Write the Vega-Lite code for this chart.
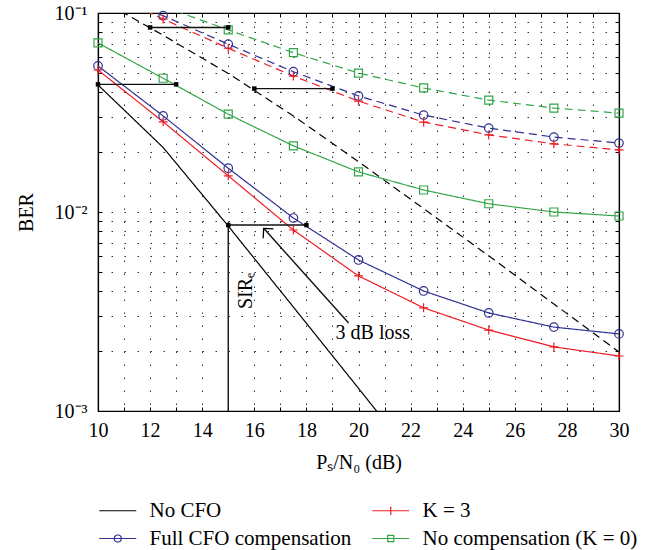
{
  "$schema": "https://vega.github.io/schema/vega-lite/v6.json",
  "width": 521,
  "height": 398,
  "autosize": {"type": "none"},
  "padding": {"left": 98, "top": 13, "right": 40, "bottom": 139},
  "background": "white",
  "config": {
    "font": "Liberation Serif",
    "view": {"stroke": "black", "strokeWidth": 1.2},
    "axis": {"labelFont": "Liberation Serif", "titleFont": "Liberation Serif"},
    "legend": {"labelFont": "Liberation Serif"},
    "text": {"font": "Liberation Serif"}
  },
  "datasets": {
    "curves": [
      {"series": "No CFO", "style": "solid", "snr": 10, "ber": 0.0435},
      {"series": "No CFO", "style": "solid", "snr": 12.5, "ber": 0.0211},
      {"series": "No CFO", "style": "solid", "snr": 15, "ber": 0.0085},
      {"series": "No CFO", "style": "solid", "snr": 17.5, "ber": 0.00333},
      {"series": "No CFO", "style": "solid", "snr": 20, "ber": 0.0013},
      {"series": "No CFO", "style": "solid", "snr": 22.5, "ber": 0.000505},
      {"series": "No CFO", "style": "dashed", "snr": 10, "ber": 0.1186},
      {"series": "No CFO", "style": "dashed", "snr": 12.5, "ber": 0.0773},
      {"series": "No CFO", "style": "dashed", "snr": 15, "ber": 0.0497},
      {"series": "No CFO", "style": "dashed", "snr": 17.5, "ber": 0.0304},
      {"series": "No CFO", "style": "dashed", "snr": 20, "ber": 0.0179},
      {"series": "No CFO", "style": "dashed", "snr": 22.5, "ber": 0.0104},
      {"series": "No CFO", "style": "dashed", "snr": 25, "ber": 0.00602},
      {"series": "No CFO", "style": "dashed", "snr": 27.5, "ber": 0.00345},
      {"series": "No CFO", "style": "dashed", "snr": 30, "ber": 0.00198},
      {"series": "Full CFO compensation", "style": "solid", "snr": 10, "ber": 0.0542},
      {"series": "Full CFO compensation", "style": "solid", "snr": 12.5, "ber": 0.0304},
      {"series": "Full CFO compensation", "style": "solid", "snr": 15, "ber": 0.0166},
      {"series": "Full CFO compensation", "style": "solid", "snr": 17.5, "ber": 0.00933},
      {"series": "Full CFO compensation", "style": "solid", "snr": 20, "ber": 0.00574},
      {"series": "Full CFO compensation", "style": "solid", "snr": 22.5, "ber": 0.00401},
      {"series": "Full CFO compensation", "style": "solid", "snr": 25, "ber": 0.00311},
      {"series": "Full CFO compensation", "style": "solid", "snr": 27.5, "ber": 0.00264},
      {"series": "Full CFO compensation", "style": "solid", "snr": 30, "ber": 0.00244},
      {"series": "Full CFO compensation", "style": "dashed", "snr": 10, "ber": 0.126},
      {"series": "Full CFO compensation", "style": "dashed", "snr": 12.5, "ber": 0.0969},
      {"series": "Full CFO compensation", "style": "dashed", "snr": 15, "ber": 0.0697},
      {"series": "Full CFO compensation", "style": "dashed", "snr": 17.5, "ber": 0.0507},
      {"series": "Full CFO compensation", "style": "dashed", "snr": 20, "ber": 0.0383},
      {"series": "Full CFO compensation", "style": "dashed", "snr": 22.5, "ber": 0.0307},
      {"series": "Full CFO compensation", "style": "dashed", "snr": 25, "ber": 0.0264},
      {"series": "Full CFO compensation", "style": "dashed", "snr": 27.5, "ber": 0.0238},
      {"series": "Full CFO compensation", "style": "dashed", "snr": 30, "ber": 0.0222},
      {"series": "K = 3", "style": "solid", "snr": 10, "ber": 0.0517},
      {"series": "K = 3", "style": "solid", "snr": 12.5, "ber": 0.0284},
      {"series": "K = 3", "style": "solid", "snr": 15, "ber": 0.0152},
      {"series": "K = 3", "style": "solid", "snr": 17.5, "ber": 0.00812},
      {"series": "K = 3", "style": "solid", "snr": 20, "ber": 0.00477},
      {"series": "K = 3", "style": "solid", "snr": 22.5, "ber": 0.0033},
      {"series": "K = 3", "style": "solid", "snr": 25, "ber": 0.00255},
      {"series": "K = 3", "style": "solid", "snr": 27.5, "ber": 0.0021},
      {"series": "K = 3", "style": "solid", "snr": 30, "ber": 0.00189},
      {"series": "K = 3", "style": "dashed", "snr": 10, "ber": 0.132},
      {"series": "K = 3", "style": "dashed", "snr": 12.5, "ber": 0.0933},
      {"series": "K = 3", "style": "dashed", "snr": 15, "ber": 0.0665},
      {"series": "K = 3", "style": "dashed", "snr": 17.5, "ber": 0.0482},
      {"series": "K = 3", "style": "dashed", "snr": 20, "ber": 0.0361},
      {"series": "K = 3", "style": "dashed", "snr": 22.5, "ber": 0.0283},
      {"series": "K = 3", "style": "dashed", "snr": 25, "ber": 0.0244},
      {"series": "K = 3", "style": "dashed", "snr": 27.5, "ber": 0.022},
      {"series": "K = 3", "style": "dashed", "snr": 30, "ber": 0.0205},
      {"series": "No compensation (K = 0)", "style": "solid", "snr": 10, "ber": 0.0707},
      {"series": "No compensation (K = 0)", "style": "solid", "snr": 12.5, "ber": 0.047},
      {"series": "No compensation (K = 0)", "style": "solid", "snr": 15, "ber": 0.031},
      {"series": "No compensation (K = 0)", "style": "solid", "snr": 17.5, "ber": 0.0215},
      {"series": "No compensation (K = 0)", "style": "solid", "snr": 20, "ber": 0.0159},
      {"series": "No compensation (K = 0)", "style": "solid", "snr": 22.5, "ber": 0.0129},
      {"series": "No compensation (K = 0)", "style": "solid", "snr": 25, "ber": 0.011},
      {"series": "No compensation (K = 0)", "style": "solid", "snr": 27.5, "ber": 0.01},
      {"series": "No compensation (K = 0)", "style": "solid", "snr": 30, "ber": 0.00955},
      {"series": "No compensation (K = 0)", "style": "dashed", "snr": 12.5, "ber": 0.108},
      {"series": "No compensation (K = 0)", "style": "dashed", "snr": 15, "ber": 0.0822},
      {"series": "No compensation (K = 0)", "style": "dashed", "snr": 17.5, "ber": 0.0632},
      {"series": "No compensation (K = 0)", "style": "dashed", "snr": 20, "ber": 0.0499},
      {"series": "No compensation (K = 0)", "style": "dashed", "snr": 22.5, "ber": 0.042},
      {"series": "No compensation (K = 0)", "style": "dashed", "snr": 25, "ber": 0.0365},
      {"series": "No compensation (K = 0)", "style": "dashed", "snr": 27.5, "ber": 0.0333},
      {"series": "No compensation (K = 0)", "style": "dashed", "snr": 30, "ber": 0.0314}
    ],
    "segs": [
      {"kind": "h", "x1": 10, "x2": 13, "y1": 0.0438, "y2": 0.0438},
      {"kind": "h", "x1": 12, "x2": 15, "y1": 0.0846, "y2": 0.0846},
      {"kind": "h", "x1": 16, "x2": 19, "y1": 0.0417, "y2": 0.0417},
      {"kind": "h", "x1": 15, "x2": 18, "y1": 0.0086, "y2": 0.0086},
      {"kind": "v", "x1": 15, "x2": 15, "y1": 0.001, "y2": 0.0086},
      {"kind": "a", "x1": 16.36, "x2": 19.62, "y1": 0.00828, "y2": 0.00277}
    ],
    "notes": [
      {"text": "SIRₑ", "x": 15.68, "y": 0.00401},
      {"text": "3 dB loss", "x": 19.12, "y": 0.00247}
    ]
  },
  "resolve": {"axis": {"x": "independent", "y": "independent"}},
  "layer": [
    {
      "data": {"name": "curves"},
      "mark": {"type": "line", "clip": true, "strokeWidth": 1.2},
      "encoding": {
        "x": {
          "field": "snr", "type": "quantitative",
          "scale": {"domain": [10, 30], "nice": false, "zero": false},
          "axis": {
            "orient": "bottom",
            "values": [10, 11, 12, 13, 14, 15, 16, 17, 18, 19, 20, 21, 22, 23, 24, 25, 26, 27, 28, 29, 30],
            "labelExpr": "datum.value % 2 === 0 ? datum.label : ''",
            "labelFlush": false, "labelOverlap": false,
            "labelFont": "Liberation Serif", "labelFontSize": 20, "labelColor": "black", "labelPadding": 13,
            "tickSize": -4, "tickColor": "black", "tickWidth": 1,
            "domainColor": "black", "domainWidth": 1.2,
            "grid": true, "gridDash": [1.5, 11.5], "gridColor": "#333", "gridWidth": 1,
            "title": "Pₛ/N₀ (dB)", "titleFont": "Liberation Serif", "titleFontSize": 20, "titleFontWeight": "normal", "titleColor": "black",
            "titleY": 57, "titleBaseline": "alphabetic"
          }
        },
        "y": {
          "field": "ber", "type": "quantitative",
          "scale": {"type": "log", "domain": [0.001, 0.1], "nice": false},
          "axis": {
            "orient": "left",
            "values": [0.001, 0.002, 0.003, 0.004, 0.005, 0.006, 0.007, 0.008, 0.009, 0.01, 0.02, 0.03, 0.04, 0.05, 0.06, 0.07, 0.08, 0.09, 0.1],
            "labelExpr": "datum.value == 0.1 ? '10⁻¹' : datum.value == 0.01 ? '10⁻²' : datum.value == 0.001 ? '10⁻³' : ''",
            "labelOverlap": false, "labelFlush": false,
            "labelFont": "Liberation Serif", "labelFontSize": 20, "labelColor": "black", "labelPadding": 15,
            "tickSize": -4, "tickColor": "black", "tickWidth": 1,
            "domainColor": "black", "domainWidth": 1.2,
            "grid": true, "gridDash": [1.5, 11.5], "gridColor": "#333", "gridWidth": 1,
            "title": "BER", "titleFont": "Liberation Serif", "titleFontSize": 20, "titleFontWeight": "normal", "titleColor": "black",
            "titleX": -66, "titleBaseline": "alphabetic"
          }
        },
        "color": {
          "field": "series", "type": "nominal",
          "scale": {
            "domain": ["No CFO", "Full CFO compensation", "K = 3", "No compensation (K = 0)"],
            "range": ["#000000", "#2e3192", "#ee1c25", "#34a547"]
          },
          "legend": {
            "orient": "none", "legendX": 0, "legendY": 487, "columns": 2, "title": null,
            "symbolSize": 342.25, "labelFont": "Liberation Serif", "labelFontSize": 21, "labelColor": "black", "labelOffset": 30.5, "labelLimit": 400,
            "columnPadding": 17, "rowPadding": 6, "padding": 0, "symbolStrokeWidth": 1.2,
            "encode": {
              "symbols": {
                "update": {
                  "shape": {"signal": "datum.value === 'No CFO' ? 'M-1,0L3,0' : datum.value === 'K = 3' ? 'M-1,0L3,0M1,-0.45L1,0.45' : datum.value === 'Full CFO compensation' ? 'M-1,0L3,0M0.62,0A0.38,0.38 0 1,0 1.38,0A0.38,0.38 0 1,0 0.62,0' : 'M-1,0L3,0M0.67,-0.33L1.33,-0.33L1.33,0.33L0.67,0.33Z'"},
                  "fill": {"value": "transparent"},
                  "strokeWidth": {"value": 1.2}
                }
              }
            }
          }
        },
        "strokeDash": {
          "field": "style", "type": "nominal",
          "scale": {"domain": ["solid", "dashed"], "range": [[1, 0], [8, 5]]},
          "legend": null
        }
      }
    },
    {
      "data": {"name": "curves"},
      "transform": [{"filter": "datum.series !== 'No CFO' && datum.ber <= 0.1"}],
      "mark": {"type": "point", "filled": false, "strokeWidth": 1.2, "opacity": 1},
      "encoding": {
        "x": {"field": "snr", "type": "quantitative", "axis": null},
        "y": {"field": "ber", "type": "quantitative", "axis": null},
        "stroke": {
          "field": "series", "type": "nominal",
          "scale": {"domain": ["K = 3", "Full CFO compensation", "No compensation (K = 0)"], "range": ["#ee1c25", "#2e3192", "#34a547"]},
          "legend": null
        },
        "shape": {
          "field": "series", "type": "nominal",
          "scale": {"domain": ["K = 3", "Full CFO compensation", "No compensation (K = 0)"], "range": ["M-1,0L1,0M0,-1L0,1", "circle", "square"]},
          "legend": null
        },
        "size": {
          "field": "series", "type": "nominal",
          "scale": {"domain": ["K = 3", "Full CFO compensation", "No compensation (K = 0)"], "range": [81, 64, 53]},
          "legend": null
        }
      }
    },
    {
      "data": {"name": "segs"},
      "mark": {"type": "rule", "color": "#111111", "strokeWidth": 1.4},
      "encoding": {
        "x": {
          "field": "x1", "type": "quantitative",
          "axis": {
            "orient": "top",
            "values": [10, 11, 12, 13, 14, 15, 16, 17, 18, 19, 20, 21, 22, 23, 24, 25, 26, 27, 28, 29, 30],
            "labels": false, "grid": false, "title": null,
            "tickSize": -4, "tickColor": "black", "domainColor": "black", "domainWidth": 1.2
          }
        },
        "x2": {"field": "x2"},
        "y": {
          "field": "y1", "type": "quantitative",
          "axis": {
            "orient": "right",
            "values": [0.001, 0.002, 0.003, 0.004, 0.005, 0.006, 0.007, 0.008, 0.009, 0.01, 0.02, 0.03, 0.04, 0.05, 0.06, 0.07, 0.08, 0.09, 0.1],
            "labels": false, "grid": false, "title": null,
            "tickSize": -4, "tickColor": "black", "domainColor": "black", "domainWidth": 1.2
          }
        },
        "y2": {"field": "y2"}
      }
    },
    {
      "data": {"name": "segs"},
      "transform": [{"filter": "datum.kind === 'h'"}, {"fold": ["x1", "x2"], "as": ["end", "xv"]}],
      "mark": {"type": "point", "shape": "square", "filled": true, "color": "black", "size": 20, "opacity": 1},
      "encoding": {
        "x": {"field": "xv", "type": "quantitative", "axis": null},
        "y": {"field": "y1", "type": "quantitative", "axis": null}
      }
    },
    {
      "data": {"name": "segs"},
      "transform": [{"filter": "datum.kind === 'a'"}],
      "mark": {"type": "point", "shape": "M0.7,-0.7L0,0L0.7,0.7", "angle": 48, "size": 400, "filled": false, "color": "black", "strokeWidth": 1.3, "opacity": 1},
      "encoding": {
        "x": {"field": "x1", "type": "quantitative", "axis": null},
        "y": {"field": "y1", "type": "quantitative", "axis": null}
      }
    },
    {
      "data": {"name": "notes"},
      "transform": [{"filter": "datum.text === 'SIRₑ'"}],
      "mark": {"type": "text", "font": "Liberation Serif", "angle": 270, "align": "center", "baseline": "middle", "fontSize": 20, "color": "black"},
      "encoding": {
        "x": {"field": "x", "type": "quantitative", "axis": null},
        "y": {"field": "y", "type": "quantitative", "axis": null},
        "text": {"field": "text"}
      }
    },
    {
      "data": {"name": "notes"},
      "transform": [{"filter": "datum.text === '3 dB loss'"}],
      "mark": {"type": "text", "font": "Liberation Serif", "align": "left", "baseline": "middle", "fontSize": 20, "color": "black"},
      "encoding": {
        "x": {"field": "x", "type": "quantitative", "axis": null},
        "y": {"field": "y", "type": "quantitative", "axis": null},
        "text": {"field": "text"}
      }
    }
  ]
}
